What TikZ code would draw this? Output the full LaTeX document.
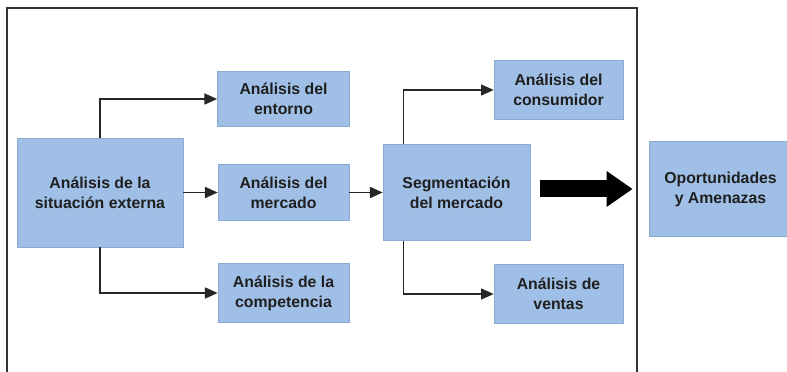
\documentclass[tikz,border=0pt]{standalone}
\usepackage{fontspec}
\setmainfont{Liberation Sans}
\usetikzlibrary{positioning,arrows.meta}
\definecolor{boxfill}{RGB}{160,191,230}
\definecolor{boxline}{RGB}{138,170,212}

\begin{document}
\begin{tikzpicture}[x=0.03cm, y=-0.03cm,
		every node/.style={on grid},
		box/.style={fill=boxfill, draw=boxline, line width=0.6pt, align=center, inner sep=0pt,
			font=\fontsize{13.5}{17}\selectfont\bfseries, text=black!88},
		link/.style={draw=black!85, line width=1.3pt, -{Triangle[length=0.38cm,width=0.33cm]}},
		thick arrow/.style={draw=black, line width=0.51cm, -{Triangle[length=0.78cm,width=1.02cm]}},
		node distance=3cm]
	\useasboundingbox (0,0) rectangle (787,372);
	\draw[black!80, line width=1.2pt] (7,380) -- (7,8) -- (637,8) -- (637,380);

	\node[box, minimum width=4.98cm, minimum height=3.27cm] (ext) at (100,192.5) {Análisis de la\\situación externa};
	\node[box, minimum width=3.93cm, minimum height=1.68cm, right=5.505cm of ext] (mercado) {Análisis del\\mercado};
	\node[box, minimum width=3.96cm, minimum height=1.65cm, above=2.805cm of mercado] (entorno) {Análisis del\\entorno};
	\node[box, minimum width=3.93cm, minimum height=1.77cm, below=3.015cm of mercado] (competencia) {Análisis de la\\competencia};

	\node[box, minimum width=4.41cm, minimum height=2.88cm, right=5.19cm of mercado] (seg) {Segmentación\\del mercado};
	\node[box, minimum width=3.87cm, minimum height=1.77cm, above right=3.075cm and 3.06cm of seg] (consumidor) {Análisis del\\consumidor};
	\node[box, minimum width=3.87cm, minimum height=1.77cm, below right=3.045cm and 3.06cm of seg] (ventas) {Análisis de\\ventas};

	\node[box, minimum width=4.29cm, minimum height=2.85cm, right=7.92cm of seg, yshift=0.105cm] (oport) {Oportunidades\\y Amenazas};

	\draw[link] (ext.north) |- (entorno.west);
	\draw[link] (ext.south) |- (competencia.west);
	\draw[link] (ext) -- (mercado);
	\draw[link] (mercado.east) -- (mercado.east -| seg.west);
	\draw[link] ([xshift=0.63cm]seg.north west) |- (consumidor.west);
	\draw[link] ([xshift=0.63cm]seg.south west) |- (ventas.west);

	\draw[thick arrow, shorten <=0.3cm, shorten >=0.48cm] (seg.east |- oport) -- (oport.west);
\end{tikzpicture}
\end{document}
